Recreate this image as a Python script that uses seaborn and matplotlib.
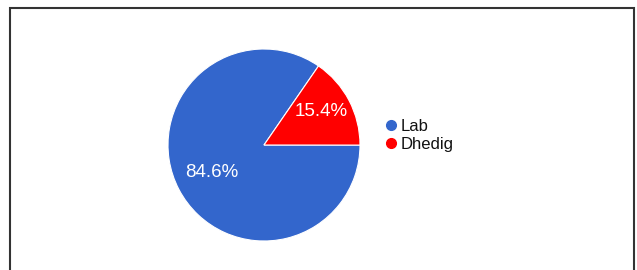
import matplotlib
matplotlib.use("Agg")
import numpy as np
import matplotlib.pyplot as plt
import seaborn as sns
from matplotlib.lines import Line2D
from matplotlib.patches import Rectangle

categories = ["Lab", "Dhedig"]
values = [84.6, 15.4]
colors = ["#3366CC", "#FF0000"]

sns.set_style("white")
plt.rcParams["font.family"] = ["Liberation Sans", "DejaVu Sans"]

W, H = 637, 270
fig = plt.figure(figsize=(W / 100, H / 100), dpi=100)
fig.patch.set_facecolor("white")

cx, cy, r = 264, 145, 96
ax = fig.add_axes([(cx - r) / W, (H - cy - r) / H, 2 * r / W, 2 * r / H])
wedges, texts, autotexts = ax.pie(
    values, colors=colors, startangle=55.4, counterclock=True,
    autopct="%.1f%%", pctdistance=0.61,
    wedgeprops=dict(edgecolor="white", linewidth=0.8),
    textprops=dict(color="white", fontsize=13.5),
)
# nudge the small-slice label outward a little, along its own wedge's bisector
w = wedges[1]
mid = np.deg2rad((w.theta1 + w.theta2) / 2 + 3)
autotexts[1].set_position((0.69 * np.cos(mid), 0.69 * np.sin(mid)))
ax.set_xlim(-1, 1)
ax.set_ylim(-1, 1)
ax.axis("off")

handles = [Line2D([0], [0], marker="o", linestyle="none", markersize=7,
                  markerfacecolor=c, markeredgecolor=c) for c in colors]
fig.legend(handles, categories, loc="center left",
           bbox_to_anchor=(386 / W, 1 - 135.5 / H), frameon=False,
           fontsize=12, handlelength=0.6, handletextpad=0.25,
           labelspacing=0.2, borderpad=0, borderaxespad=0,
           labelcolor="#111111")

border = Rectangle((10 / W, -0.1), (634 - 10) / W, 1 - 8 / H + 0.1,
                   transform=fig.transFigure, fill=False,
                   edgecolor="#333333", linewidth=1.5)
fig.add_artist(border)

fig.savefig("out.png", dpi=100)
